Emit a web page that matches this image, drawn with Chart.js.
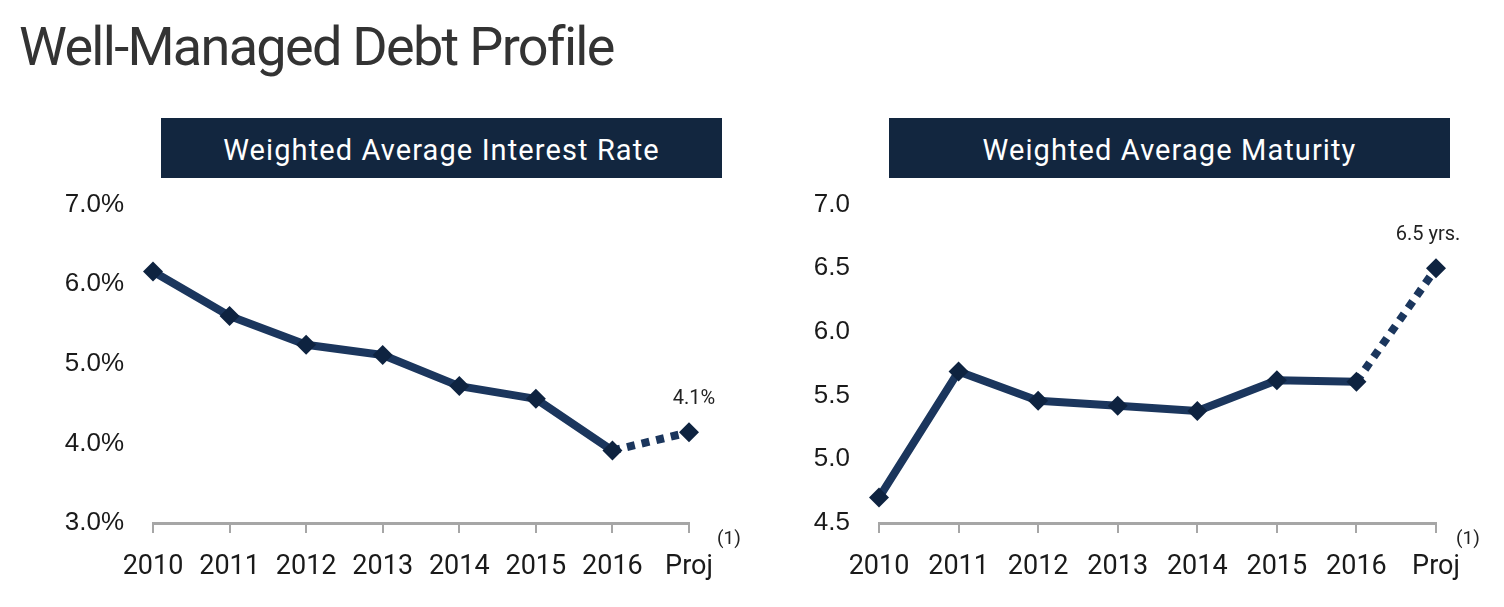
<!DOCTYPE html>
<html lang="en">
<head>
    <meta charset="utf-8" />
    <title>Well-Managed Debt Profile</title>
    <script src="https://cdn.jsdelivr.net/npm/chart.js"></script>
    <style>
        html, body { margin: 0; padding: 0; background: #fff; }
        body { width: 1504px; height: 607px; position: relative; overflow: hidden; font-family: Roboto, "Liberation Sans", sans-serif; }
        .title { position: absolute; left: 19px; top: 15px; font-size: 54px; color: #333; letter-spacing: -1.7px; white-space: nowrap; }
        .hdr { position: absolute; top: 118px; height: 60px; width: 561px; background: #12263f; color: #fff;
               font-size: 29px; line-height: 64px; text-align: center; letter-spacing: 1.1px; }
        .box { position: absolute; top: 160px; height: 440px; }
        .note { position: absolute; top: 526px; font-size: 19px; color: #222; }
    </style>
</head>
<body>
    <div class="title">Well-Managed Debt Profile</div>
    <div class="hdr" style="left:161px">Weighted Average Interest Rate</div>
    <div class="hdr" style="left:889px">Weighted Average Maturity</div>
    <div class="box" style="left:0; width:760px"><canvas id="rateChart"></canvas></div>
    <div class="box" style="left:760px; width:744px"><canvas id="maturityChart"></canvas></div>
    <div class="note" style="left:717px">(1)</div>
    <div class="note" style="left:1456px">(1)</div>

    <script>
        const years = ["2010", "2011", "2012", "2013", "2014", "2015", "2016", "Proj"];
        const interestRate = [6.16, 5.6, 5.24, 5.11, 4.72, 4.56, 3.91, 4.14];
        const maturity = [4.70, 5.69, 5.46, 5.42, 5.38, 5.62, 5.61, 6.5];
        const rateTicks = [3, 4, 5, 6, 7];
        const maturityTicks = [4.5, 5.0, 5.5, 6.0, 6.5, 7.0];

        const lineColor = "#1b365d";
        const markColor = "#0e2340";
        const axisGray = "#a6a6a6";

        // label above the projected point
        const projLabel = {
            id: "projLabel",
            afterDatasetsDraw(chart, args, opts) {
                const pt = chart.getDatasetMeta(0).data[years.length - 1];
                const ctx = chart.ctx;
                ctx.save();
                ctx.font = "20px Roboto";
                ctx.fillStyle = "#222";
                ctx.textAlign = "center";
                ctx.textBaseline = "middle";
                ctx.fillText(opts.text, pt.x + opts.dx, pt.y - 33);
                ctx.restore();
            }
        };

        function makeChart(id, values, tickVals, fmt, yWidth, padRight, labelText, labelDx) {
            new Chart(document.getElementById(id), {
                type: "line",
                data: {
                    labels: years,
                    datasets: [{
                        data: values,
                        borderColor: lineColor,
                        borderWidth: 8,
                        borderJoinStyle: "round",
                        pointStyle: "rectRot",
                        pointRadius: 10,
                        pointBackgroundColor: markColor,
                        pointBorderColor: markColor,
                        pointBorderWidth: 0,
                        tension: 0,
                        clip: false,
                        segment: {
                            borderDash: c => c.p1DataIndex === years.length - 1 ? [8, 7] : undefined
                        }
                    }]
                },
                options: {
                    responsive: true,
                    maintainAspectRatio: false,
                    animation: false,
                    layout: { padding: { top: 13, right: padRight, left: 0, bottom: 0 } },
                    plugins: {
                        legend: { display: false },
                        tooltip: { enabled: false },
                        projLabel: { text: labelText, dx: labelDx }
                    },
                    scales: {
                        x: {
                            offset: false,
                            afterFit: s => { s.height = 77; },
                            border: { display: true, color: axisGray, width: 3 },
                            grid: { display: true, drawOnChartArea: false, drawTicks: true, tickLength: 10, color: axisGray, lineWidth: 2 },
                            ticks: { color: "#1a1a1a", font: { family: "Roboto", size: 27 }, padding: 18, maxRotation: 0, autoSkip: false }
                        },
                        y: {
                            min: tickVals[0],
                            max: tickVals[tickVals.length - 1],
                            afterFit: s => { s.width = yWidth; },
                            afterBuildTicks: s => { s.ticks = tickVals.map(v => ({ value: v })); },
                            border: { display: false },
                            grid: { display: false, drawTicks: false },
                            ticks: { color: "#1a1a1a", font: { family: "Liberation Sans", size: 26 }, padding: 29, callback: fmt }
                        }
                    }
                },
                plugins: [projLabel]
            });
        }

        makeChart("rateChart", interestRate, rateTicks, v => v.toFixed(1) + "%", 153, 71,
            interestRate[interestRate.length - 1].toFixed(1) + "%", 5);
        makeChart("maturityChart", maturity, maturityTicks, v => v.toFixed(1), 119, 68,
            maturity[maturity.length - 1].toFixed(1) + " yrs.", -8);
    </script>
</body>
</html>
